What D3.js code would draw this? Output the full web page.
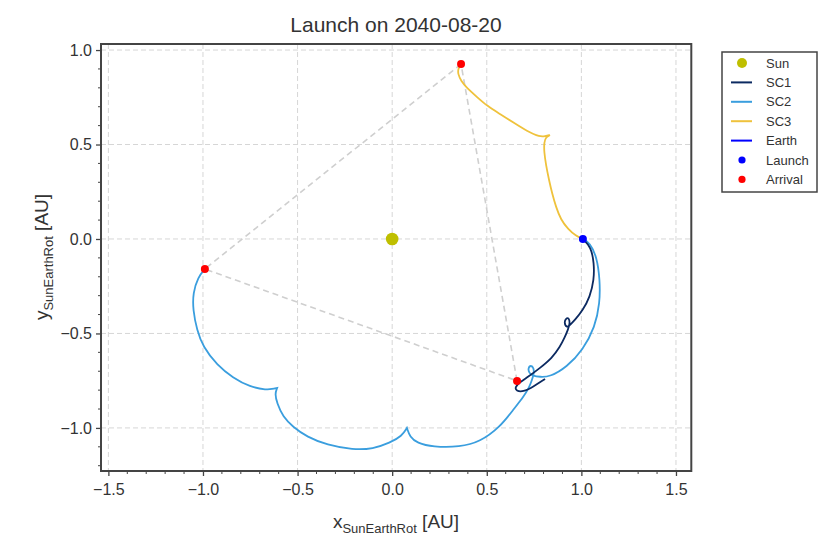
<!DOCTYPE html>
<html>
<head>
<meta charset="utf-8">
<script src="https://cdn.jsdelivr.net/npm/d3@7"></script>
<style>
  html, body { margin: 0; padding: 0; background: #fff; }
  svg { display: block; font-family: "Liberation Sans", Arial, Helvetica, sans-serif; }
</style>
</head>
<body>
<svg id="chart" width="831" height="550"></svg>
<script>
// ---------- data (AU, Sun-Earth rotating frame) ----------
const title = "Launch on 2040-08-20";
const xTicks = [-1.5, -1.0, -0.5, 0.0, 0.5, 1.0, 1.5];
const yTicks = [-1.0, -0.5, 0.0, 0.5, 1.0];

const sun = [0, 0];
const earth = [[1.008, 0]];
const launch = [1.008, 0];
const arrivals = [[0.660, -0.751], [-0.990, -0.159], [0.364, 0.926]];
const triangle = [[0.364, 0.926], [-0.990, -0.159], [0.660, -0.751], [0.364, 0.926]];

const sc1 = [
  [1.008, 0], [1.051, -0.042], [1.067, -0.127], [1.067, -0.217], [1.045, -0.307],
  [1.008, -0.376], [0.966, -0.429], [0.940, -0.455], [0.924, -0.471], [0.908, -0.444],
  [0.919, -0.418], [0.934, -0.418], [0.940, -0.444], [0.929, -0.481], [0.913, -0.519],
  [0.887, -0.571], [0.845, -0.630], [0.781, -0.683], [0.718, -0.730], [0.676, -0.757],
  [0.649, -0.783], [0.655, -0.804], [0.692, -0.810], [0.744, -0.783], [0.808, -0.741]
];
const sc2 = [
  [1.008, 0], [1.045, -0.021], [1.082, -0.095], [1.098, -0.217], [1.098, -0.339],
  [1.072, -0.466], [1.008, -0.587], [0.924, -0.677], [0.834, -0.730], [0.780, -0.730],
  [0.744, -0.725], [0.723, -0.709], [0.718, -0.683], [0.733, -0.667], [0.749, -0.683],
  [0.749, -0.714], [0.739, -0.746], [0.723, -0.788], [0.697, -0.831], [0.639, -0.905],
  [0.570, -0.995], [0.464, -1.074], [0.358, -1.101], [0.215, -1.101], [0.131, -1.079],
  [0.094, -1.048], [0.078, -1.000], [0.052, -1.042], [-0.012, -1.079], [-0.101, -1.111],
  [-0.207, -1.116], [-0.345, -1.090], [-0.450, -1.048], [-0.524, -0.995], [-0.577, -0.942],
  [-0.609, -0.868], [-0.620, -0.820], [-0.608, -0.788], [-0.635, -0.794], [-0.662, -0.799],
  [-0.752, -0.783], [-0.842, -0.735], [-0.926, -0.667], [-1.000, -0.571], [-1.032, -0.481],
  [-1.053, -0.376], [-1.053, -0.286], [-1.026, -0.201], [-0.990, -0.159]
];
const sc3 = [
  [1.008, 0], [0.971, 0.016], [0.929, 0.053], [0.892, 0.101], [0.866, 0.169],
  [0.845, 0.243], [0.829, 0.312], [0.813, 0.392], [0.803, 0.460], [0.803, 0.513],
  [0.813, 0.540], [0.834, 0.550], [0.808, 0.545], [0.782, 0.540], [0.712, 0.571],
  [0.644, 0.614], [0.571, 0.661], [0.502, 0.704], [0.449, 0.751], [0.395, 0.799],
  [0.364, 0.836], [0.348, 0.873], [0.348, 0.899], [0.364, 0.926]
];
// indices of sharp cusps in each trajectory
const sc1Cusps = [];
const sc2Cusps = [26, 37];
const sc3Cusps = [11];

const legendItems = [
  {label: "Sun", type: "dot", color: "#bfbf00", r: 5},
  {label: "SC1", type: "line", color: "#0c2a61"},
  {label: "SC2", type: "line", color: "#3a9ede"},
  {label: "SC3", type: "line", color: "#efc23c"},
  {label: "Earth", type: "line", color: "#0000ff"},
  {label: "Launch", type: "dot", color: "#0000ff", r: 3.6},
  {label: "Arrival", type: "dot", color: "#ff0000", r: 3.6}
];

// ---------- layout ----------
const svg = d3.select("#chart");
const L = 101, R = 691.3, T = 44, B = 471;
const x = d3.scaleLinear().domain([-1.539, 1.581]).range([L, R]);
const y = d3.scaleLinear().domain([-1.228, 1.032]).range([B, T]);
const textColor = "#333";
const axisColor = "#444";

// grid
const grid = svg.append("g");
xTicks.forEach(t => grid.append("line")
  .attr("x1", x(t)).attr("x2", x(t)).attr("y1", T).attr("y2", B)
  .attr("stroke", "#d6d6d6").attr("stroke-width", 1).attr("stroke-dasharray", "5,3"));
yTicks.forEach(t => grid.append("line")
  .attr("x1", L).attr("x2", R).attr("y1", y(t)).attr("y2", y(t))
  .attr("stroke", "#d6d6d6").attr("stroke-width", 1).attr("stroke-dasharray", "5,3"));

// clip
svg.append("clipPath").attr("id", "clip").append("rect")
  .attr("x", L).attr("y", T).attr("width", R - L).attr("height", B - T);
const plot = svg.append("g").attr("clip-path", "url(#clip)");

const smooth = d3.line().x(d => x(d[0])).y(d => y(d[1])).curve(d3.curveBasis);
const straight = d3.line().x(d => x(d[0])).y(d => y(d[1]));
function pathWithCusps(data, cusps) {
  const cuts = [0, ...cusps, data.length - 1];
  let d = "";
  for (let i = 0; i < cuts.length - 1; i++) {
    const seg = data.slice(cuts[i], cuts[i + 1] + 1);
    let s = smooth(seg);
    if (i > 0) s = s.replace(/^M[^A-Za-z]*/, "");
    d += s;
  }
  return d;
}

// dashed triangle between arrivals
plot.append("path").attr("d", straight(triangle)).attr("fill", "none")
  .attr("stroke", "#cfcfcf").attr("stroke-width", 1.6).attr("stroke-dasharray", "6,4");

// trajectories
plot.append("path").attr("d", pathWithCusps(sc3, sc3Cusps)).attr("fill", "none").attr("stroke", "#efc23c").attr("stroke-width", 1.8);
plot.append("path").attr("d", pathWithCusps(sc2, sc2Cusps)).attr("fill", "none").attr("stroke", "#3a9ede").attr("stroke-width", 1.8);
plot.append("path").attr("d", pathWithCusps(sc1, sc1Cusps)).attr("fill", "none").attr("stroke", "#0c2a61").attr("stroke-width", 1.8);
plot.append("path").attr("d", straight(earth)).attr("fill", "none").attr("stroke", "#0000ff").attr("stroke-width", 1.8);

// sun
plot.append("circle").attr("cx", x(sun[0])).attr("cy", y(sun[1])).attr("r", 6.3).attr("fill", "#bfbf00");
// launch
plot.append("circle").attr("cx", x(launch[0])).attr("cy", y(launch[1])).attr("r", 4).attr("fill", "#0000ff");
// arrivals
arrivals.forEach(a => plot.append("circle").attr("cx", x(a[0])).attr("cy", y(a[1])).attr("r", 4).attr("fill", "#ff0000"));

// axes
const xAxis = d3.axisBottom(x).tickValues(xTicks).tickSize(5).tickPadding(4)
  .tickFormat(d => d3.format(".1f")(d).replace("-", "\u2212"));
const yAxis = d3.axisLeft(y).tickValues(yTicks).tickSize(5).tickPadding(4)
  .tickFormat(d => d3.format(".1f")(d).replace("-", "\u2212"));
const gx = svg.append("g").attr("transform", `translate(0,${B})`).call(xAxis);
const gy = svg.append("g").attr("transform", `translate(${L},0)`).call(yAxis);
[gx, gy].forEach(g => {
  g.select(".domain").remove();
  g.selectAll(".tick line").attr("stroke", axisColor).attr("stroke-width", 1.3);
  g.selectAll(".tick text").attr("fill", textColor).attr("font-size", 16)
    .attr("font-family", "Liberation Sans, Arial, sans-serif");
});
gx.selectAll(".tick text").attr("dy", "0.95em");

// minor ticks
const xMinor = d3.range(-15, 16).map(i => i / 10).filter(v => Math.abs(v * 2 - Math.round(v * 2)) > 1e-6);
const yMinor = d3.range(-12, 11).map(i => i / 10).filter(v => Math.abs(v * 2 - Math.round(v * 2)) > 1e-6);
const minor = svg.append("g").attr("stroke", axisColor).attr("stroke-width", 1);
xMinor.forEach(v => minor.append("line").attr("x1", x(v)).attr("x2", x(v)).attr("y1", B).attr("y2", B + 3));
yMinor.forEach(v => minor.append("line").attr("y1", y(v)).attr("y2", y(v)).attr("x1", L).attr("x2", L - 3));

// frame
svg.append("rect").attr("x", L).attr("y", T).attr("width", R - L).attr("height", B - T)
  .attr("fill", "none").attr("stroke", axisColor).attr("stroke-width", 2);

// title
svg.append("text").attr("x", 396).attr("y", 32).attr("text-anchor", "middle")
  .attr("font-size", 21).attr("fill", textColor).text(title);

// x label
const xl = svg.append("text").attr("x", 396).attr("y", 528).attr("text-anchor", "middle")
  .attr("font-size", 19).attr("fill", textColor);
xl.append("tspan").text("x");
xl.append("tspan").attr("font-size", 13).attr("dy", 5).text("SunEarthRot");
xl.append("tspan").attr("dy", -5).text(" [AU]");

// y label
const yl = svg.append("text").attr("transform", "translate(48,257) rotate(-90)")
  .attr("text-anchor", "middle").attr("font-size", 19).attr("fill", textColor);
yl.append("tspan").text("y");
yl.append("tspan").attr("font-size", 13).attr("dy", 5).text("SunEarthRot");
yl.append("tspan").attr("dy", -5).text(" [AU]");

// legend
const lg = svg.append("g");
lg.append("rect").attr("x", 722).attr("y", 52).attr("width", 95).attr("height", 140)
  .attr("fill", "#fff").attr("stroke", axisColor).attr("stroke-width", 1.5);
legendItems.forEach((it, i) => {
  const cy = 63 + i * 19.4;
  if (it.type === "dot") {
    lg.append("circle").attr("cx", 742).attr("cy", cy).attr("r", it.r).attr("fill", it.color);
  } else {
    lg.append("line").attr("x1", 731).attr("x2", 752).attr("y1", cy).attr("y2", cy)
      .attr("stroke", it.color).attr("stroke-width", 2);
  }
  lg.append("text").attr("x", 766).attr("y", cy).attr("dy", "0.35em")
    .attr("font-size", 13).attr("fill", textColor).text(it.label);
});
</script>
</body>
</html>
